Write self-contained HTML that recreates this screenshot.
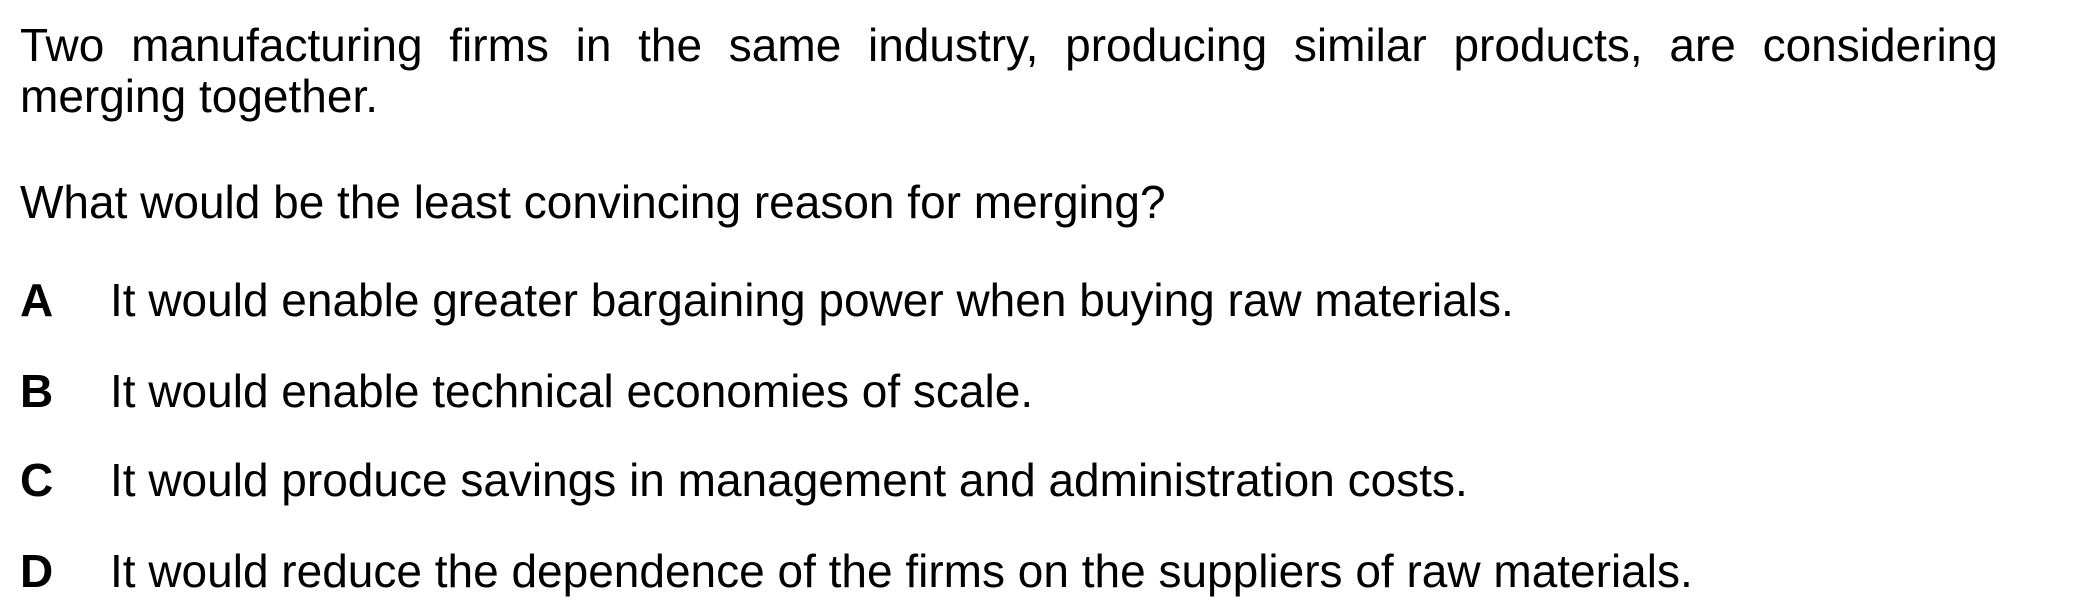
<!DOCTYPE html>
<html><head><meta charset="utf-8"><style>
html,body{margin:0;padding:0;background:#fff;}
body{width:2100px;height:615px;position:relative;overflow:hidden;font-family:"Liberation Sans",Arial,sans-serif;font-size:46px;line-height:46px;color:#000;}
.l{position:absolute;white-space:nowrap;}
.j{display:flex;justify-content:space-between;left:20px;width:1978px;}
.k{left:20px;font-weight:bold;}
.t{left:110px;}
</style></head><body>
<div class="l j" style="top:22px"><span>Two</span><span>manufacturing</span><span>firms</span><span>in</span><span>the</span><span>same</span><span>industry,</span><span>producing</span><span>similar</span><span>products,</span><span>are</span><span>considering</span></div>
<div class="l" style="top:73px;left:20px">merging together.</div>
<div class="l" style="top:179px;left:20px">What would be the least convincing reason for merging?</div>
<div class="l k" style="top:277px">A</div>
<div class="l t" style="top:277px">It would enable greater bargaining power when buying raw materials.</div>
<div class="l k" style="top:368px">B</div>
<div class="l t" style="top:368px">It would enable technical economies of scale.</div>
<div class="l k" style="top:457px">C</div>
<div class="l t" style="top:457px">It would produce savings in management and administration costs.</div>
<div class="l k" style="top:548px">D</div>
<div class="l t" style="top:548px">It would reduce the dependence of the firms on the suppliers of raw materials.</div>
</body></html>
